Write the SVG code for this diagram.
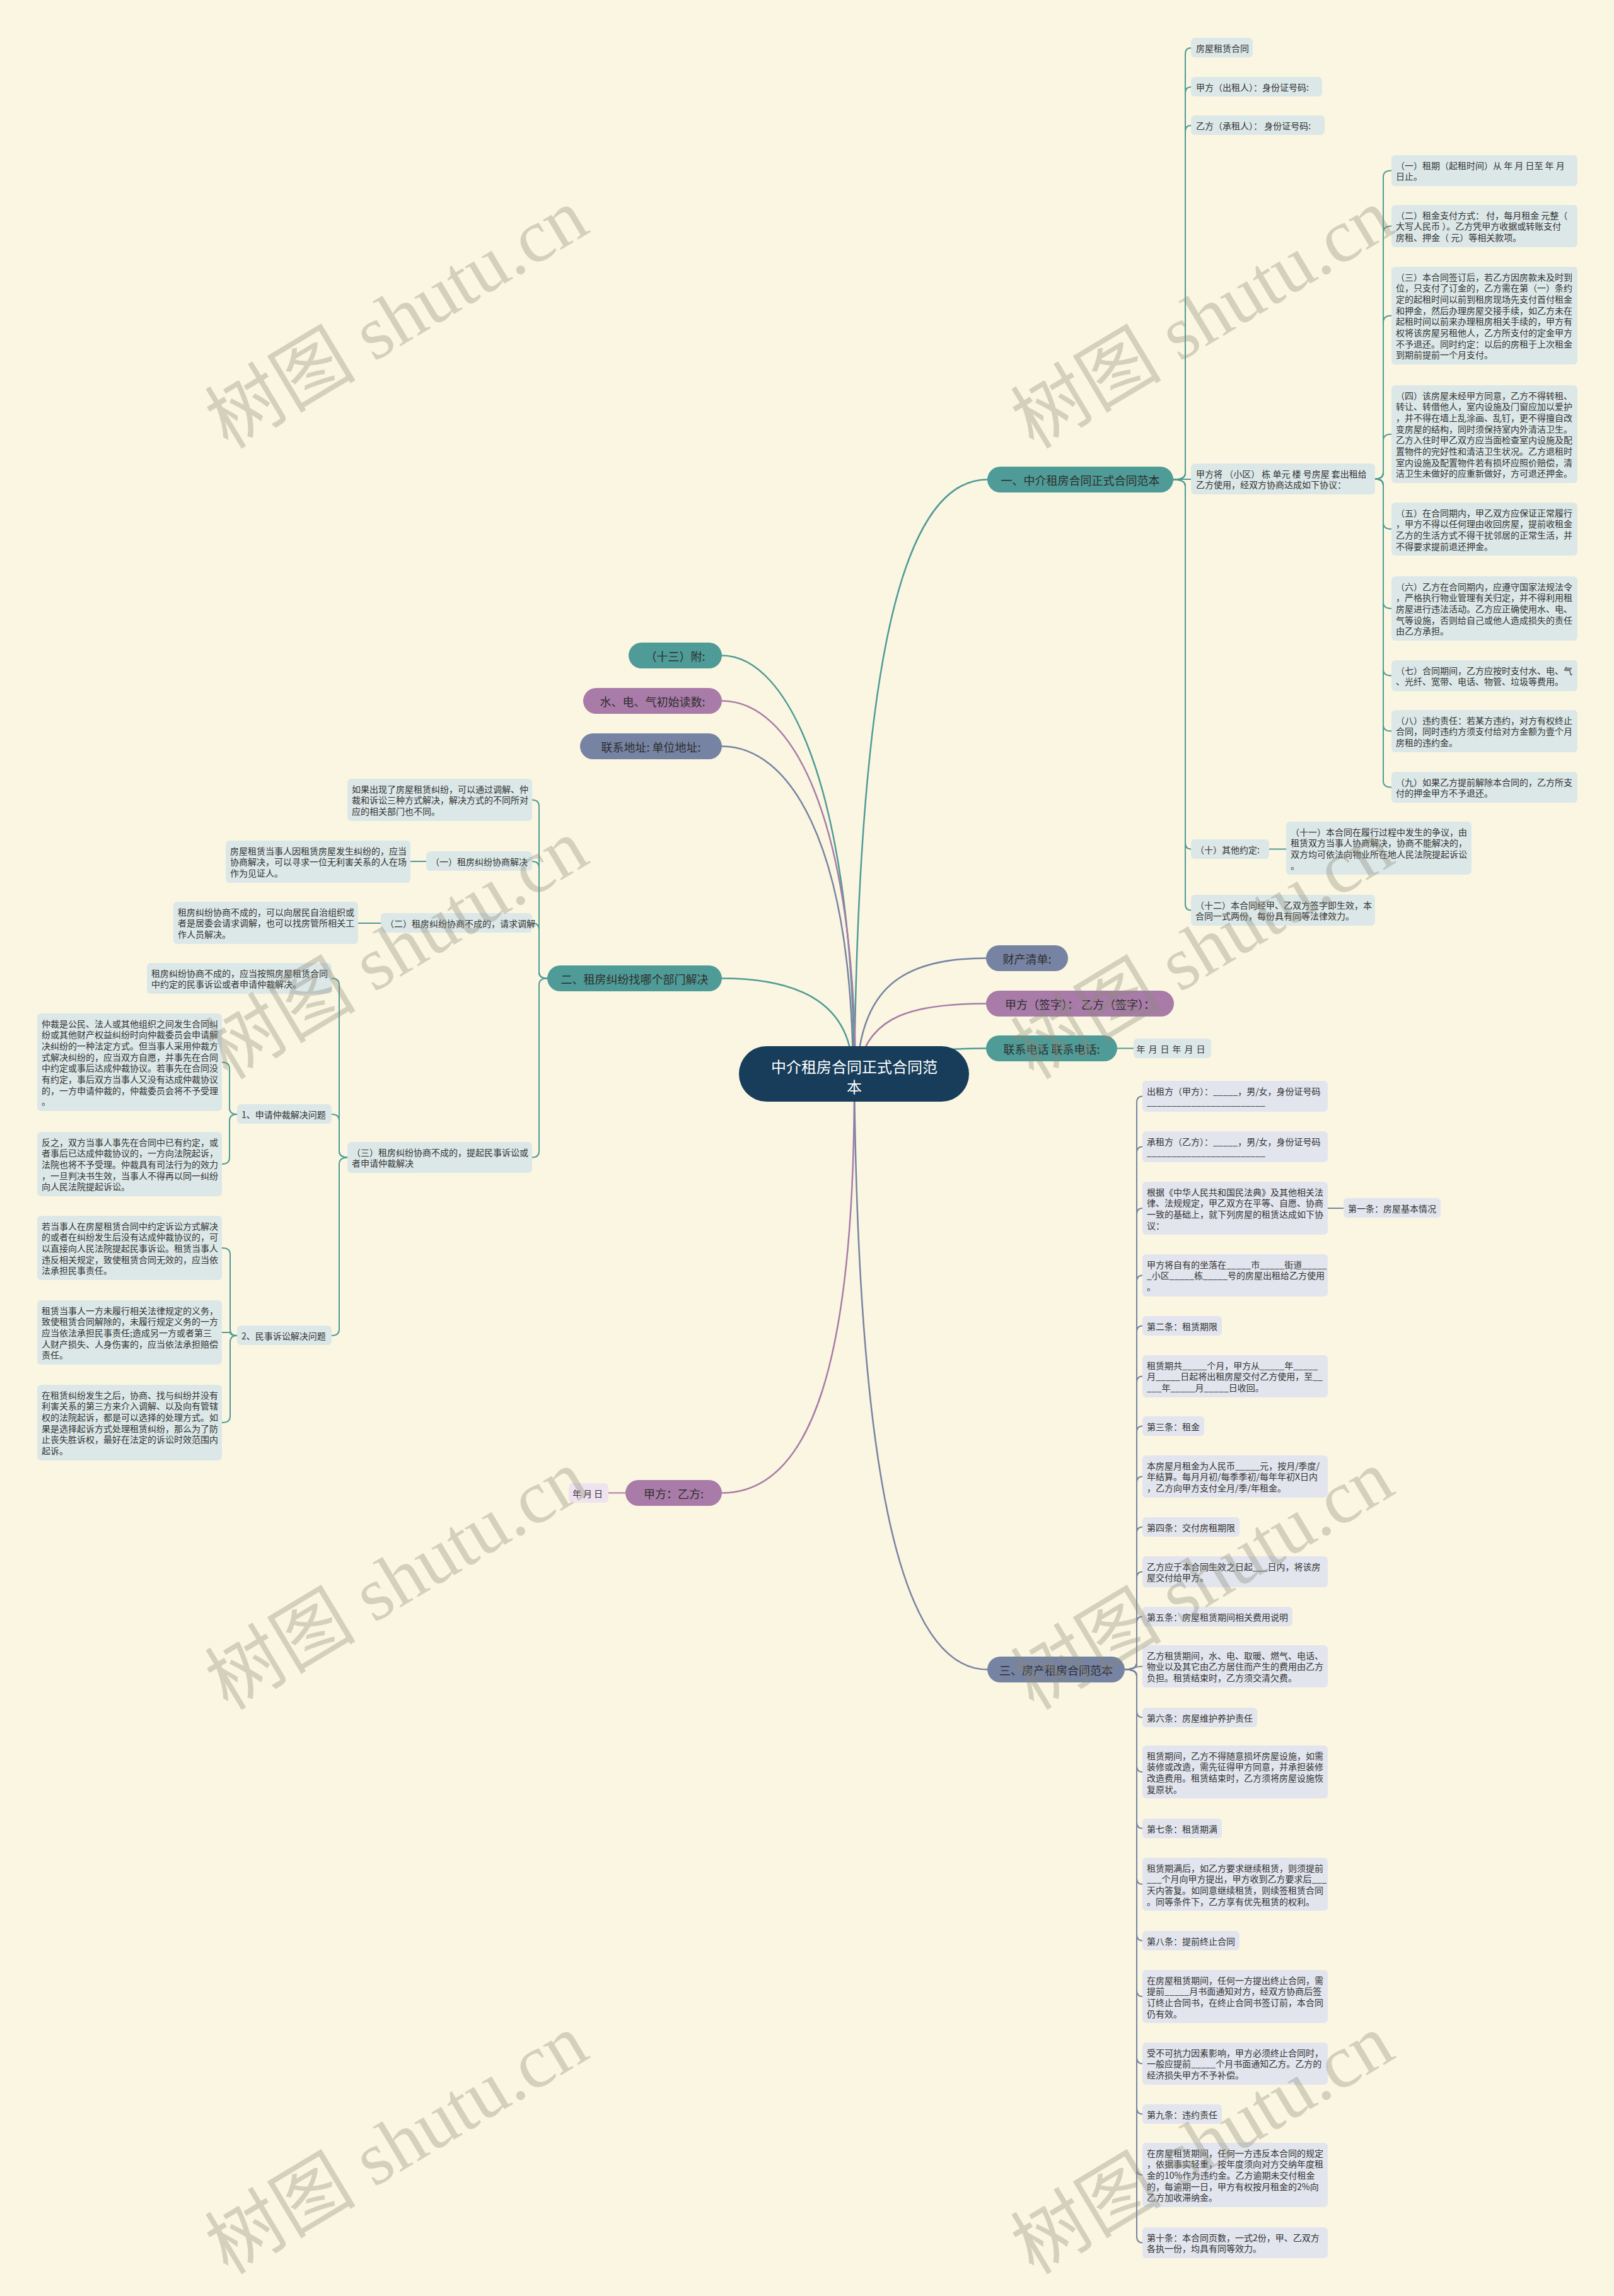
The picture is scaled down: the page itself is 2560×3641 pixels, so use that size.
<svg xmlns="http://www.w3.org/2000/svg" width="2560" height="3641" viewBox="0 0 2560 3641">
<style>
text{font-family:"Noto Sans CJK SC","Noto Sans",sans-serif}
.t{font-size:14px;fill:#333;dominant-baseline:central}
.l1{font-size:18px;fill:#2e2e2e;dominant-baseline:central;text-anchor:middle}
.mt{font-size:24px;fill:#fff;dominant-baseline:central;text-anchor:middle}
.tl{fill:#4e9b97}.pu{fill:#a87ba8}.sl{fill:#7683a3}
.ct{fill:#dce8e8}.cs{fill:#e2e5ee}.cp{fill:#efe3ef}
.ln{fill:none;stroke-width:2}
.lm{fill:none;stroke-width:2.5}
.lt{stroke:#4e9b97}.lp{stroke:#a87ba8}.ls{stroke:#7683a3}
.wm{font-family:"Liberation Serif","Noto Sans CJK SC",serif;font-size:120px;fill:#8c8a7a;opacity:0.35;text-anchor:middle}
</style>
<rect width="2560" height="3641" fill="#fbf6e1"/>
<g id="connectors">
<path class="lm lt" d="M1355 1700 C1362 1100 1420 760.5 1566 760.5"/>
<path class="lm lt" d="M1355 1690 C1350 1250 1250 1039.5 1145 1039.5"/>
<path class="lm lp" d="M1357 1690 C1352 1290 1255 1111.5 1145 1111.5"/>
<path class="lm ls" d="M1353 1690 C1348 1330 1250 1183.5 1145 1183.5"/>
<path class="lm lt" d="M1352 1690 C1345 1580 1250 1551.5 1145 1551.5"/>
<path class="lm ls" d="M1360 1690 C1370 1560 1440 1519.5 1564 1519.5"/>
<path class="lm lp" d="M1362 1690 C1380 1610 1450 1591.5 1564 1591.5"/>
<path class="lm lt" d="M1400 1690 C1460 1665 1500 1662.5 1564 1662.5"/>
<path class="lm lp" d="M1355 1720 C1355 2150 1290 2367.5 1145 2367.5"/>
<path class="lm ls" d="M1355 1720 C1362 2300 1420 2647.5 1566 2647.5"/>
<path class="ln lt" d="M1772 1662.5 H1798"/>
<path class="ln lp" d="M992 2367.5 H965"/>
<path class="ln lt" d="M1861 760.5 Q1880 760.5 1880 750.5 V86 Q1880 76 1889 76"/>
<path class="ln lt" d="M1861 760.5 Q1880 760.5 1880 750.5 V148 Q1880 138 1889 138"/>
<path class="ln lt" d="M1861 760.5 Q1880 760.5 1880 750.5 V209 Q1880 199 1889 199"/>
<path class="ln lt" d="M1861 760 H1889"/>
<path class="ln lt" d="M1861 760.5 Q1880 760.5 1880 770.5 V1336.5 Q1880 1346.5 1889 1346.5"/>
<path class="ln lt" d="M1861 760.5 Q1880 760.5 1880 770.5 V1433.5 Q1880 1443.5 1889 1443.5"/>
<path class="ln lt" d="M2013 1346.5 H2040"/>
<path class="ln lt" d="M2181 759.5 Q2194 759.5 2194 749.5 V280.5 Q2194 270.5 2207 270.5"/>
<path class="ln lt" d="M2181 759.5 Q2194 759.5 2194 749.5 V368.5 Q2194 358.5 2207 358.5"/>
<path class="ln lt" d="M2181 759.5 Q2194 759.5 2194 749.5 V510.5 Q2194 500.5 2207 500.5"/>
<path class="ln lt" d="M2181 759.5 Q2194 759.5 2194 749.5 V698.5 Q2194 688.5 2207 688.5"/>
<path class="ln lt" d="M2181 759.5 Q2194 759.5 2194 769.5 V829 Q2194 839 2207 839"/>
<path class="ln lt" d="M2181 759.5 Q2194 759.5 2194 769.5 V955 Q2194 965 2207 965"/>
<path class="ln lt" d="M2181 759.5 Q2194 759.5 2194 769.5 V1061.5 Q2194 1071.5 2207 1071.5"/>
<path class="ln lt" d="M2181 759.5 Q2194 759.5 2194 769.5 V1149.5 Q2194 1159.5 2207 1159.5"/>
<path class="ln lt" d="M2181 759.5 Q2194 759.5 2194 769.5 V1238.5 Q2194 1248.5 2207 1248.5"/>
<path class="ln lt" d="M868 1551.5 Q855 1551.5 855 1541.5 V1278.5 Q855 1268.5 844 1268.5"/>
<path class="ln lt" d="M868 1551.5 Q855 1551.5 855 1541.5 V1376 Q855 1366 844 1366"/>
<path class="ln lt" d="M868 1551.5 Q855 1551.5 855 1541.5 V1474 Q855 1464 844 1464"/>
<path class="ln lt" d="M868 1551.5 Q855 1551.5 855 1561.5 V1825.5 Q855 1835.5 844 1835.5"/>
<path class="ln lt" d="M676 1366 H651"/>
<path class="ln lt" d="M604 1464 H568"/>
<path class="ln lt" d="M553 1835.5 Q538 1835.5 538 1825.5 V1561.5 Q538 1551.5 526 1551.5"/>
<path class="ln lt" d="M553 1835.5 Q538 1835.5 538 1825.5 V1777 Q538 1767 526 1767"/>
<path class="ln lt" d="M553 1835.5 Q538 1835.5 538 1845.5 V2108 Q538 2118 526 2118"/>
<path class="ln lt" d="M376 1767 Q364 1767 364 1757 V1694.5 Q364 1684.5 352 1684.5"/>
<path class="ln lt" d="M376 1767 Q364 1767 364 1777 V1836 Q364 1846 352 1846"/>
<path class="ln lt" d="M376 2118 Q365 2118 365 2108 V1989 Q365 1979 352 1979"/>
<path class="ln lt" d="M376 2118 Q365 2118 365 2113 Q365 2113 352 2113"/>
<path class="ln lt" d="M376 2118 Q365 2118 365 2128 V2246 Q365 2256 352 2256"/>
<path class="ln ls" d="M1784 2647.5 Q1803 2647.5 1803 2637.5 V1748.5 Q1803 1738.5 1812 1738.5"/>
<path class="ln ls" d="M1784 2647.5 Q1803 2647.5 1803 2637.5 V1828.5 Q1803 1818.5 1812 1818.5"/>
<path class="ln ls" d="M1784 2647.5 Q1803 2647.5 1803 2637.5 V1926 Q1803 1916 1812 1916"/>
<path class="ln ls" d="M1784 2647.5 Q1803 2647.5 1803 2637.5 V2032.5 Q1803 2022.5 1812 2022.5"/>
<path class="ln ls" d="M1784 2647.5 Q1803 2647.5 1803 2637.5 V2112.5 Q1803 2102.5 1812 2102.5"/>
<path class="ln ls" d="M1784 2647.5 Q1803 2647.5 1803 2637.5 V2192.5 Q1803 2182.5 1812 2182.5"/>
<path class="ln ls" d="M1784 2647.5 Q1803 2647.5 1803 2637.5 V2271.5 Q1803 2261.5 1812 2261.5"/>
<path class="ln ls" d="M1784 2647.5 Q1803 2647.5 1803 2637.5 V2351.5 Q1803 2341.5 1812 2341.5"/>
<path class="ln ls" d="M1784 2647.5 Q1803 2647.5 1803 2637.5 V2431.5 Q1803 2421.5 1812 2421.5"/>
<path class="ln ls" d="M1784 2647.5 Q1803 2647.5 1803 2637.5 V2502.5 Q1803 2492.5 1812 2492.5"/>
<path class="ln ls" d="M1784 2647.5 Q1803 2647.5 1803 2637.5 V2573.5 Q1803 2563.5 1812 2563.5"/>
<path class="ln ls" d="M1784 2647.5 C1798 2647.5 1798 2642.5 1812 2642.5"/>
<path class="ln ls" d="M1784 2647.5 Q1803 2647.5 1803 2657.5 V2713.5 Q1803 2723.5 1812 2723.5"/>
<path class="ln ls" d="M1784 2647.5 Q1803 2647.5 1803 2657.5 V2800 Q1803 2810 1812 2810"/>
<path class="ln ls" d="M1784 2647.5 Q1803 2647.5 1803 2657.5 V2889.5 Q1803 2899.5 1812 2899.5"/>
<path class="ln ls" d="M1784 2647.5 Q1803 2647.5 1803 2657.5 V2978 Q1803 2988 1812 2988"/>
<path class="ln ls" d="M1784 2647.5 Q1803 2647.5 1803 2657.5 V3067.5 Q1803 3077.5 1812 3077.5"/>
<path class="ln ls" d="M1784 2647.5 Q1803 2647.5 1803 2657.5 V3156 Q1803 3166 1812 3166"/>
<path class="ln ls" d="M1784 2647.5 Q1803 2647.5 1803 2657.5 V3262.5 Q1803 3272.5 1812 3272.5"/>
<path class="ln ls" d="M1784 2647.5 Q1803 2647.5 1803 2657.5 V3342.5 Q1803 3352.5 1812 3352.5"/>
<path class="ln ls" d="M1784 2647.5 Q1803 2647.5 1803 2657.5 V3439 Q1803 3449 1812 3449"/>
<path class="ln ls" d="M1784 2647.5 Q1803 2647.5 1803 2657.5 V3546.5 Q1803 3556.5 1812 3556.5"/>
<path class="ln ls" d="M2106 1916 H2131"/>
</g>
<g id="main"><rect x="1172" y="1659" width="365" height="88" rx="44" fill="#173d5b"/><text class="mt" x="1355"><tspan x="1355" y="1690">中介租房合同正式合同范</tspan><tspan x="1355" y="1722">本</tspan></text></g>
<g id="n1"><rect class="tl" x="1566" y="740" width="295" height="41" rx="20.5"/><text class="l1" x="1713.5" y="760.5">一、中介租房合同正式合同范本</text></g>
<g id="n-caichan"><rect class="sl" x="1564" y="1499" width="130" height="41" rx="20.5"/><text class="l1" x="1629" y="1519.5">财产清单:</text></g>
<g id="n-qianzi"><rect class="pu" x="1564" y="1571" width="298" height="41" rx="20.5"/><text class="l1" x="1713" y="1591.5">甲方（签字）： 乙方（签字）：</text></g>
<g id="n-dianhua"><rect class="tl" x="1564" y="1642" width="208" height="41" rx="20.5"/><text class="l1" x="1668" y="1662.5">联系电话 联系电话:</text></g>
<g id="n-dianhua-c"><rect class="ct" x="1798" y="1647" width="123" height="31" rx="6"/><text class="t" x="1859.5" y="1662.5" text-anchor="middle" letter-spacing="5">年月日年月日</text></g>
<g id="n3"><rect class="sl" x="1566" y="2627" width="218" height="41" rx="20.5"/><text class="l1" x="1675" y="2647.5">三、房产租房合同范本</text></g>
<g id="n-jiayi"><rect class="pu" x="992" y="2347" width="153" height="41" rx="20.5"/><text class="l1" x="1068.5" y="2367.5">甲方：乙方:</text></g>
<g id="n-jiayi-c"><rect class="cp" x="902" y="2352" width="63" height="31" rx="6"/><text class="t" x="933.5" y="2367.5" text-anchor="middle" letter-spacing="3">年月日</text></g>
<g id="n2"><rect class="tl" x="868" y="1531" width="277" height="41" rx="20.5"/><text class="l1" x="1006.5" y="1551.5">二、租房纠纷找哪个部门解决</text></g>
<g id="n-dizhi"><rect class="sl" x="920" y="1163" width="225" height="41" rx="20.5"/><text class="l1" x="1032.5" y="1183.5">联系地址:  单位地址:</text></g>
<g id="n-dushu"><rect class="pu" x="925" y="1091" width="220" height="41" rx="20.5"/><text class="l1" x="1035" y="1111.5">水、电、气初始读数:</text></g>
<g id="n-fu"><rect class="tl" x="997" y="1019" width="148" height="41" rx="20.5"/><text class="l1" x="1071" y="1039.5">（十三）附:</text></g>
<g id="b1c1"><rect class="ct" x="1889" y="60" width="98" height="31" rx="6"/><text class="t" x="1897" y="75.5">房屋租赁合同</text></g>
<g id="b1c2"><rect class="ct" x="1889" y="122" width="208" height="31" rx="6"/><text class="t" x="1897" y="137.5">甲方（出租人）：身份证号码:</text></g>
<g id="b1c3"><rect class="ct" x="1889" y="183" width="212" height="31" rx="6"/><text class="t" x="1897" y="198.5">乙方（承租人）： 身份证号码:</text></g>
<g id="b1c4"><rect class="ct" x="1889" y="735" width="292" height="49" rx="6"/><text class="t"><tspan x="1897" y="750.5">甲方将 （小区） 栋 单元 楼 号房屋 套出租给</tspan><tspan x="1897" y="768.2">乙方使用，经双方协商达成如下协议：</tspan></text></g>
<g id="b1c5"><rect class="ct" x="1889" y="1331" width="124" height="31" rx="6"/><text class="t" x="1896" y="1346.5">（十）其他约定:</text></g>
<g id="b1c5a"><rect class="ct" x="2040" y="1303" width="294" height="84" rx="6"/><text class="t"><tspan x="2047" y="1318.5">（十一）本合同在履行过程中发生的争议，由</tspan><tspan x="2047" y="1336.2">租赁双方当事人协商解决，协商不能解决的，</tspan><tspan x="2047" y="1353.9">双方均可依法向物业所在地人民法院提起诉讼</tspan><tspan x="2047" y="1371.6">。</tspan></text></g>
<g id="b1c6"><rect class="ct" x="1889" y="1419" width="292" height="49" rx="6"/><text class="t"><tspan x="1896" y="1434.5">（十二）本合同经甲、乙双方签字即生效，本</tspan><tspan x="1896" y="1452.2">合同一式两份，每份具有同等法律效力。</tspan></text></g>
<g id="k1"><rect class="ct" x="2207" y="246" width="295" height="49" rx="6"/><text class="t"><tspan x="2214" y="261.5">（一）租期（起租时间）从 年 月 日至 年 月</tspan><tspan x="2214" y="279.2">日止。</tspan></text></g>
<g id="k2"><rect class="ct" x="2207" y="325" width="295" height="67" rx="6"/><text class="t"><tspan x="2214" y="340.5">（二）租金支付方式： 付，每月租金 元整（</tspan><tspan x="2214" y="358.2">大写人民币 ）。乙方凭甲方收据或转账支付</tspan><tspan x="2214" y="375.9">房租、押金（ 元）等相关款项。</tspan></text></g>
<g id="k3"><rect class="ct" x="2207" y="423" width="295" height="155" rx="6"/><text class="t"><tspan x="2214" y="438.5">（三）本合同签订后，若乙方因房款未及时到</tspan><tspan x="2214" y="456.2">位，只支付了订金的，乙方需在第（一）条约</tspan><tspan x="2214" y="473.9">定的起租时间以前到租房现场先支付首付租金</tspan><tspan x="2214" y="491.6">和押金，然后办理房屋交接手续，如乙方未在</tspan><tspan x="2214" y="509.3">起租时间以前来办理租房相关手续的，甲方有</tspan><tspan x="2214" y="527">权将该房屋另租他人，乙方所支付的定金甲方</tspan><tspan x="2214" y="544.7">不予退还。同时约定：以后的房租于上次租金</tspan><tspan x="2214" y="562.4">到期前提前一个月支付。</tspan></text></g>
<g id="k4"><rect class="ct" x="2207" y="611" width="295" height="155" rx="6"/><text class="t"><tspan x="2214" y="626.5">（四）该房屋未经甲方同意，乙方不得转租、</tspan><tspan x="2214" y="644.2">转让、转借他人，室内设施及门窗应加以爱护</tspan><tspan x="2214" y="661.9">，并不得在墙上乱涂画、乱钉，更不得擅自改</tspan><tspan x="2214" y="679.6">变房屋的结构，同时须保持室内外清洁卫生。</tspan><tspan x="2214" y="697.3">乙方入住时甲乙双方应当面检查室内设施及配</tspan><tspan x="2214" y="715">置物件的完好性和清洁卫生状况。乙方退租时</tspan><tspan x="2214" y="732.7">室内设施及配置物件若有损坏应照价赔偿，清</tspan><tspan x="2214" y="750.4">洁卫生未做好的应重新做好，方可退还押金。</tspan></text></g>
<g id="k5"><rect class="ct" x="2207" y="797" width="295" height="84" rx="6"/><text class="t"><tspan x="2214" y="812.5">（五）在合同期内，甲乙双方应保证正常履行</tspan><tspan x="2214" y="830.2">，甲方不得以任何理由收回房屋，提前收租金</tspan><tspan x="2214" y="847.9">乙方的生活方式不得干扰邻居的正常生活，并</tspan><tspan x="2214" y="865.6">不得要求提前退还押金。</tspan></text></g>
<g id="k6"><rect class="ct" x="2207" y="914" width="295" height="102" rx="6"/><text class="t"><tspan x="2214" y="929.5">（六）乙方在合同期内，应遵守国家法规法令</tspan><tspan x="2214" y="947.2">，严格执行物业管理有关归定，并不得利用租</tspan><tspan x="2214" y="964.9">房屋进行违法活动。乙方应正确使用水、电、</tspan><tspan x="2214" y="982.6">气等设施，否则给自己或他人造成损失的责任</tspan><tspan x="2214" y="1000.3">由乙方承担。</tspan></text></g>
<g id="k7"><rect class="ct" x="2207" y="1047" width="295" height="49" rx="6"/><text class="t"><tspan x="2214" y="1062.5">（七）合同期间，乙方应按时支付水、电、气</tspan><tspan x="2214" y="1080.2">、光纤、宽带、电话、物管、垃圾等费用。</tspan></text></g>
<g id="k8"><rect class="ct" x="2207" y="1126" width="295" height="67" rx="6"/><text class="t"><tspan x="2214" y="1141.5">（八）违约责任：若某方违约，对方有权终止</tspan><tspan x="2214" y="1159.2">合同，同时违约方须支付给对方金额为壹个月</tspan><tspan x="2214" y="1176.9">房租的违约金。</tspan></text></g>
<g id="k9"><rect class="ct" x="2207" y="1224" width="295" height="49" rx="6"/><text class="t"><tspan x="2214" y="1239.5">（九）如果乙方提前解除本合同的，乙方所支</tspan><tspan x="2214" y="1257.2">付的押金甲方不予退还。</tspan></text></g>
<g id="b2c1"><rect class="ct" x="551" y="1235" width="293" height="67" rx="6"/><text class="t"><tspan x="558" y="1250.5">如果出现了房屋租赁纠纷，可以通过调解、仲</tspan><tspan x="558" y="1268.2">裁和诉讼三种方式解决，解决方式的不同所对</tspan><tspan x="558" y="1285.9">应的相关部门也不同。</tspan></text></g>
<g id="b2c2"><rect class="ct" x="676" y="1350" width="168" height="31" rx="6"/><text class="t" x="683" y="1365.5">（一）租房纠纷协商解决</text></g>
<g id="b2c2a"><rect class="ct" x="358" y="1333" width="293" height="67" rx="6"/><text class="t"><tspan x="365" y="1348.5">房屋租赁当事人因租赁房屋发生纠纷的，应当</tspan><tspan x="365" y="1366.2">协商解决，可以寻求一位无利害关系的人在场</tspan><tspan x="365" y="1383.9">作为见证人。</tspan></text></g>
<g id="b2c3"><rect class="ct" x="604" y="1448" width="240" height="31" rx="6"/><text class="t" x="611" y="1463.5">（二）租房纠纷协商不成的，请求调解</text></g>
<g id="b2c3a"><rect class="ct" x="275" y="1430" width="293" height="67" rx="6"/><text class="t"><tspan x="282" y="1445.5">租房纠纷协商不成的，可以向居民自治组织或</tspan><tspan x="282" y="1463.2">者是居委会请求调解，也可以找房管所相关工</tspan><tspan x="282" y="1480.9">作人员解决。</tspan></text></g>
<g id="b2c4"><rect class="ct" x="551" y="1811" width="293" height="49" rx="6"/><text class="t"><tspan x="558" y="1826.5">（三）租房纠纷协商不成的，提起民事诉讼或</tspan><tspan x="558" y="1844.2">者申请仲裁解决</tspan></text></g>
<g id="b2c4a"><rect class="ct" x="233" y="1527" width="293" height="49" rx="6"/><text class="t"><tspan x="240" y="1542.5">租房纠纷协商不成的，应当按照房屋租赁合同</tspan><tspan x="240" y="1560.2">中约定的民事诉讼或者申请仲裁解决。</tspan></text></g>
<g id="b2c4b"><rect class="ct" x="376" y="1751" width="150" height="31" rx="6"/><text class="t" x="383" y="1766.5">1、申请仲裁解决问题</text></g>
<g id="b2c4b1"><rect class="ct" x="59" y="1607" width="293" height="155" rx="6"/><text class="t"><tspan x="66" y="1622.5">仲裁是公民、法人或其他组织之间发生合同纠</tspan><tspan x="66" y="1640.2">纷或其他财产权益纠纷时向仲裁委员会申请解</tspan><tspan x="66" y="1657.9">决纠纷的一种法定方式。但当事人采用仲裁方</tspan><tspan x="66" y="1675.6">式解决纠纷的，应当双方自愿，并事先在合同</tspan><tspan x="66" y="1693.3">中约定或事后达成仲裁协议。若事先在合同没</tspan><tspan x="66" y="1711">有约定，事后双方当事人又没有达成仲裁协议</tspan><tspan x="66" y="1728.7">的，一方申请仲裁的，仲裁委员会将不予受理</tspan><tspan x="66" y="1746.4">。</tspan></text></g>
<g id="b2c4b2"><rect class="ct" x="59" y="1795" width="293" height="102" rx="6"/><text class="t"><tspan x="66" y="1810.5">反之，双方当事人事先在合同中已有约定，或</tspan><tspan x="66" y="1828.2">者事后已达成仲裁协议的，一方向法院起诉，</tspan><tspan x="66" y="1845.9">法院也将不予受理。仲裁具有司法行为的效力</tspan><tspan x="66" y="1863.6">，一旦判决书生效，当事人不得再以同一纠纷</tspan><tspan x="66" y="1881.3">向人民法院提起诉讼。</tspan></text></g>
<g id="b2c4c"><rect class="ct" x="376" y="2102" width="150" height="31" rx="6"/><text class="t" x="383" y="2117.5">2、民事诉讼解决问题</text></g>
<g id="b2c4c1"><rect class="ct" x="59" y="1928" width="293" height="102" rx="6"/><text class="t"><tspan x="66" y="1943.5">若当事人在房屋租赁合同中约定诉讼方式解决</tspan><tspan x="66" y="1961.2">的或者在纠纷发生后没有达成仲裁协议的，可</tspan><tspan x="66" y="1978.9">以直接向人民法院提起民事诉讼。租赁当事人</tspan><tspan x="66" y="1996.6">违反相关规定，致使租赁合同无效的，应当依</tspan><tspan x="66" y="2014.3">法承担民事责任。</tspan></text></g>
<g id="b2c4c2"><rect class="ct" x="59" y="2062" width="293" height="102" rx="6"/><text class="t"><tspan x="66" y="2077.5">租赁当事人一方未履行相关法律规定的义务，</tspan><tspan x="66" y="2095.2">致使租赁合同解除的，未履行规定义务的一方</tspan><tspan x="66" y="2112.9">应当依法承担民事责任;造成另一方或者第三</tspan><tspan x="66" y="2130.6">人财产损失、人身伤害的，应当依法承担赔偿</tspan><tspan x="66" y="2148.3">责任。</tspan></text></g>
<g id="b2c4c3"><rect class="ct" x="59" y="2196" width="293" height="120" rx="6"/><text class="t"><tspan x="66" y="2211.5">在租赁纠纷发生之后，协商、找与纠纷并没有</tspan><tspan x="66" y="2229.2">利害关系的第三方来介入调解、以及向有管辖</tspan><tspan x="66" y="2246.9">权的法院起诉，都是可以选择的处理方式。如</tspan><tspan x="66" y="2264.6">果是选择起诉方式处理租赁纠纷，那么为了防</tspan><tspan x="66" y="2282.3">止丧失胜诉权，最好在法定的诉讼时效范围内</tspan><tspan x="66" y="2300">起诉。</tspan></text></g>
<g id="c1"><rect class="cs" x="1812" y="1714" width="294" height="49" rx="6"/><text class="t"><tspan x="1819" y="1729.5">出租方（甲方）：_____，男/女，身份证号码</tspan><tspan x="1819" y="1747.2">________________________</tspan></text></g>
<g id="c2"><rect class="cs" x="1812" y="1794" width="294" height="49" rx="6"/><text class="t"><tspan x="1819" y="1809.5">承租方（乙方）：_____，男/女，身份证号码</tspan><tspan x="1819" y="1827.2">________________________</tspan></text></g>
<g id="c3"><rect class="cs" x="1812" y="1874" width="294" height="84" rx="6"/><text class="t"><tspan x="1819" y="1889.5">根据《中华人民共和国民法典》及其他相关法</tspan><tspan x="1819" y="1907.2">律、法规规定，甲乙双方在平等、自愿、协商</tspan><tspan x="1819" y="1924.9">一致的基础上，就下列房屋的租赁达成如下协</tspan><tspan x="1819" y="1942.6">议：</tspan></text></g>
<g id="c3a"><rect class="cs" x="2131" y="1900" width="154" height="31" rx="6"/><text class="t" x="2138" y="1915.5">第一条：房屋基本情况</text></g>
<g id="c4"><rect class="cs" x="1812" y="1989" width="294" height="67" rx="6"/><text class="t"><tspan x="1819" y="2004.5">甲方将自有的坐落在_____市_____街道_____</tspan><tspan x="1819" y="2022.2">_小区_____栋_____号的房屋出租给乙方使用</tspan><tspan x="1819" y="2039.9">。</tspan></text></g>
<g id="c5"><rect class="cs" x="1812" y="2087" width="126" height="31" rx="6"/><text class="t" x="1819" y="2102.5">第二条：租赁期限</text></g>
<g id="c6"><rect class="cs" x="1812" y="2149" width="294" height="67" rx="6"/><text class="t"><tspan x="1819" y="2164.5">租赁期共_____个月，甲方从_____年_____</tspan><tspan x="1819" y="2182.2">月_____日起将出租房屋交付乙方使用，至__</tspan><tspan x="1819" y="2199.9">___年_____月_____日收回。</tspan></text></g>
<g id="c7"><rect class="cs" x="1812" y="2246" width="98" height="31" rx="6"/><text class="t" x="1819" y="2261.5">第三条：租金</text></g>
<g id="c8"><rect class="cs" x="1812" y="2308" width="294" height="67" rx="6"/><text class="t"><tspan x="1819" y="2323.5">本房屋月租金为人民币_____元，按月/季度/</tspan><tspan x="1819" y="2341.2">年结算。每月月初/每季季初/每年年初X日内</tspan><tspan x="1819" y="2358.9">，乙方向甲方支付全月/季/年租金。</tspan></text></g>
<g id="c9"><rect class="cs" x="1812" y="2406" width="154" height="31" rx="6"/><text class="t" x="1819" y="2421.5">第四条：交付房租期限</text></g>
<g id="c10"><rect class="cs" x="1812" y="2468" width="294" height="49" rx="6"/><text class="t"><tspan x="1819" y="2483.5">乙方应于本合同生效之日起___日内，将该房</tspan><tspan x="1819" y="2501.2">屋交付给甲方。</tspan></text></g>
<g id="c11"><rect class="cs" x="1812" y="2548" width="238" height="31" rx="6"/><text class="t" x="1819" y="2563.5">第五条：房屋租赁期间相关费用说明</text></g>
<g id="c12"><rect class="cs" x="1812" y="2609" width="294" height="67" rx="6"/><text class="t"><tspan x="1819" y="2624.5">乙方租赁期间，水、电、取暖、燃气、电话、</tspan><tspan x="1819" y="2642.2">物业以及其它由乙方居住而产生的费用由乙方</tspan><tspan x="1819" y="2659.9">负担。租赁结束时，乙方须交清欠费。</tspan></text></g>
<g id="c13"><rect class="cs" x="1812" y="2708" width="182" height="31" rx="6"/><text class="t" x="1819" y="2723.5">第六条：房屋维护养护责任</text></g>
<g id="c14"><rect class="cs" x="1812" y="2768" width="294" height="84" rx="6"/><text class="t"><tspan x="1819" y="2783.5">租赁期间，乙方不得随意损坏房屋设施，如需</tspan><tspan x="1819" y="2801.2">装修或改造，需先征得甲方同意，并承担装修</tspan><tspan x="1819" y="2818.9">改造费用。租赁结束时，乙方须将房屋设施恢</tspan><tspan x="1819" y="2836.6">复原状。</tspan></text></g>
<g id="c15"><rect class="cs" x="1812" y="2884" width="126" height="31" rx="6"/><text class="t" x="1819" y="2899.5">第七条：租赁期满</text></g>
<g id="c16"><rect class="cs" x="1812" y="2946" width="294" height="84" rx="6"/><text class="t"><tspan x="1819" y="2961.5">租赁期满后，如乙方要求继续租赁，则须提前</tspan><tspan x="1819" y="2979.2">___个月向甲方提出，甲方收到乙方要求后___</tspan><tspan x="1819" y="2996.9">天内答复。如同意继续租赁，则续签租赁合同</tspan><tspan x="1819" y="3014.6">。同等条件下，乙方享有优先租赁的权利。</tspan></text></g>
<g id="c17"><rect class="cs" x="1812" y="3062" width="154" height="31" rx="6"/><text class="t" x="1819" y="3077.5">第八条：提前终止合同</text></g>
<g id="c18"><rect class="cs" x="1812" y="3124" width="294" height="84" rx="6"/><text class="t"><tspan x="1819" y="3139.5">在房屋租赁期间，任何一方提出终止合同，需</tspan><tspan x="1819" y="3157.2">提前_____月书面通知对方，经双方协商后签</tspan><tspan x="1819" y="3174.9">订终止合同书，在终止合同书签订前，本合同</tspan><tspan x="1819" y="3192.6">仍有效。</tspan></text></g>
<g id="c19"><rect class="cs" x="1812" y="3239" width="294" height="67" rx="6"/><text class="t"><tspan x="1819" y="3254.5">受不可抗力因素影响，甲方必须终止合同时，</tspan><tspan x="1819" y="3272.2">一般应提前_____个月书面通知乙方。乙方的</tspan><tspan x="1819" y="3289.9">经济损失甲方不予补偿。</tspan></text></g>
<g id="c20"><rect class="cs" x="1812" y="3337" width="126" height="31" rx="6"/><text class="t" x="1819" y="3352.5">第九条：违约责任</text></g>
<g id="c21"><rect class="cs" x="1812" y="3398" width="294" height="102" rx="6"/><text class="t"><tspan x="1819" y="3413.5">在房屋租赁期间，任何一方违反本合同的规定</tspan><tspan x="1819" y="3431.2">，依据事实轻重，按年度须向对方交纳年度租</tspan><tspan x="1819" y="3448.9">金的10%作为违约金。乙方逾期未交付租金</tspan><tspan x="1819" y="3466.6">的，每逾期一日，甲方有权按月租金的2%向</tspan><tspan x="1819" y="3484.3">乙方加收滞纳金。</tspan></text></g>
<g id="c22"><rect class="cs" x="1812" y="3532" width="294" height="49" rx="6"/><text class="t"><tspan x="1819" y="3547.5">第十条：本合同页数，一式2份，甲、乙双方</tspan><tspan x="1819" y="3565.2">各执一份，均具有同等效力。</tspan></text></g>
<g id="watermark">
<text class="wm" transform="translate(650 540) rotate(-31)">树图 shutu.cn</text>
<text class="wm" transform="translate(1928 540) rotate(-31)">树图 shutu.cn</text>
<text class="wm" transform="translate(650 1540) rotate(-31)">树图 shutu.cn</text>
<text class="wm" transform="translate(1928 1540) rotate(-31)">树图 shutu.cn</text>
<text class="wm" transform="translate(650 2540) rotate(-31)">树图 shutu.cn</text>
<text class="wm" transform="translate(1928 2540) rotate(-31)">树图 shutu.cn</text>
<text class="wm" transform="translate(650 3435) rotate(-31)">树图 shutu.cn</text>
<text class="wm" transform="translate(1928 3435) rotate(-31)">树图 shutu.cn</text>
</g>
</svg>
